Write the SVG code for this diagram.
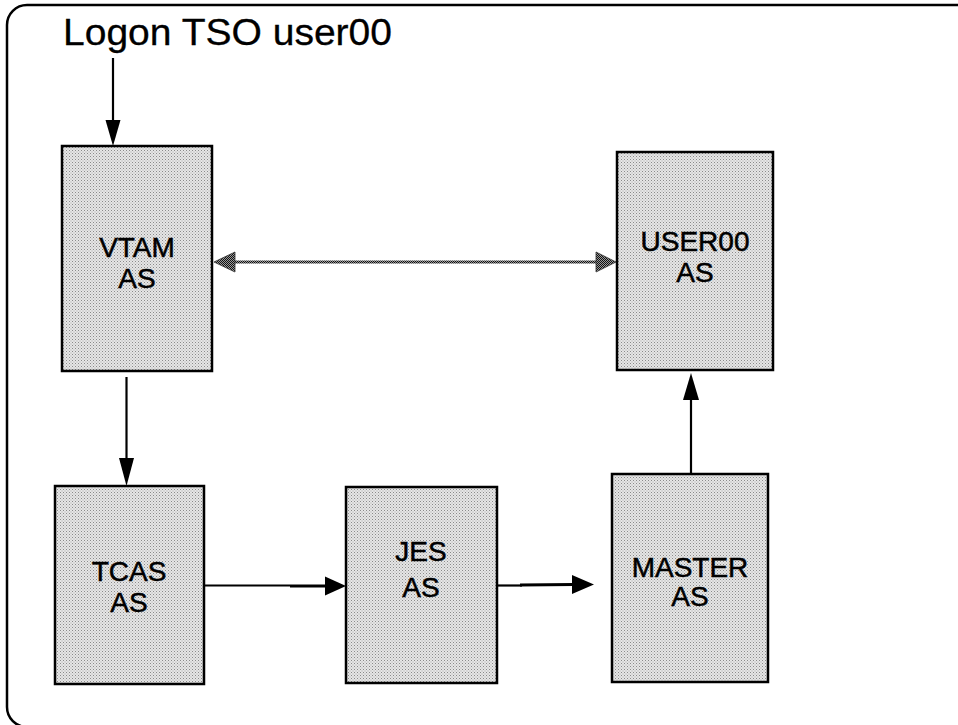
<svg xmlns="http://www.w3.org/2000/svg" width="958" height="725" viewBox="0 0 958 725">
<defs>
<pattern id="dots" width="3" height="3" patternUnits="userSpaceOnUse">
<rect width="3" height="3" fill="#e6e6e6"/>
<rect x="0" y="0" width="1" height="1" fill="#8a8a8a"/>
<rect x="1.5" y="1.5" width="1" height="1" fill="#a8a8a8"/>
</pattern>
<pattern id="dark" width="2" height="2" patternUnits="userSpaceOnUse">
<rect width="2" height="2" fill="#9a9a9a"/>
<rect width="1" height="1" fill="#111"/>
<rect x="1" y="1" width="1" height="1" fill="#111"/>
</pattern>
</defs>
<style>
.box{fill:url(#dots);stroke:#000;stroke-width:2.5}
.lbl{font-family:"Liberation Sans",Arial,sans-serif;font-size:28px;fill:#000;stroke:#000;stroke-width:0.5;text-anchor:middle}
.title{font-family:"Liberation Sans",Arial,sans-serif;font-size:37px;fill:#000;stroke:#000;stroke-width:0.3}
.ln{stroke:#000;stroke-width:2.2;fill:none}
.head{fill:#000}
.dhead{fill:url(#dark);stroke:#333;stroke-width:0.8}
</style>
<rect x="7" y="5" width="975" height="722" rx="20" ry="20" fill="#fff" stroke="#000" stroke-width="2.5"/>
<text class="title" x="63" y="45" textLength="329" lengthAdjust="spacingAndGlyphs">Logon TSO user00</text>

<g id="connectors">
<g id="c-logon-vtam">
<line class="ln" x1="113" y1="58" x2="113" y2="122"/>
<path class="head" d="M105.5,120 L120.5,120 L113,146 Z"/>
</g>
<g id="c-vtam-user00">
<line x1="232" y1="262" x2="598" y2="262" stroke="url(#dark)" stroke-width="3"/>
<path class="dhead" d="M214,262 L235,252 L235,272 Z"/>
<path class="dhead" d="M616,262 L596,252 L596,272 Z"/>
</g>
<g id="c-vtam-tcas">
<line class="ln" x1="126.5" y1="377" x2="126.5" y2="460"/>
<path class="head" d="M119,458 L134,458 L126.5,486 Z"/>
</g>
<g id="c-tcas-jes">
<line class="ln" x1="204" y1="585.5" x2="290" y2="585.5"/>
<line x1="290" y1="586" x2="328" y2="586" stroke="#000" stroke-width="3.2"/>
<path class="head" d="M325,576.5 L346,586 L325,595.5 Z"/>
</g>
<g id="c-jes-master">
<line class="ln" x1="497" y1="585.5" x2="522" y2="585.5"/>
<line x1="520" y1="585" x2="574" y2="584.5" stroke="#000" stroke-width="3"/>
<path class="head" d="M572,575 L594,584.5 L572,594 Z"/>
</g>
<g id="c-master-user00">
<line class="ln" x1="691" y1="474" x2="691" y2="398"/>
<path class="head" d="M683,400 L699,400 L691,373 Z"/>
</g>
</g>

<g id="vtam">
<rect class="box" x="62" y="146" width="150" height="225"/>
<text class="lbl" x="137" y="257">VTAM</text>
<text class="lbl" x="137" y="288">AS</text>
</g>
<g id="user00">
<rect class="box" x="617" y="152" width="156" height="218"/>
<text class="lbl" x="695" y="251">USER00</text>
<text class="lbl" x="695" y="282">AS</text>
</g>
<g id="tcas">
<rect class="box" x="55" y="486" width="149" height="198"/>
<text class="lbl" x="129" y="581">TCAS</text>
<text class="lbl" x="129" y="612">AS</text>
</g>
<g id="jes">
<rect class="box" x="346" y="487" width="151" height="196"/>
<text class="lbl" x="421" y="561">JES</text>
<text class="lbl" x="421" y="597">AS</text>
</g>
<g id="master">
<rect class="box" x="612" y="474" width="156" height="208"/>
<text class="lbl" x="690" y="577">MASTER</text>
<text class="lbl" x="690" y="606">AS</text>
</g>
</svg>
